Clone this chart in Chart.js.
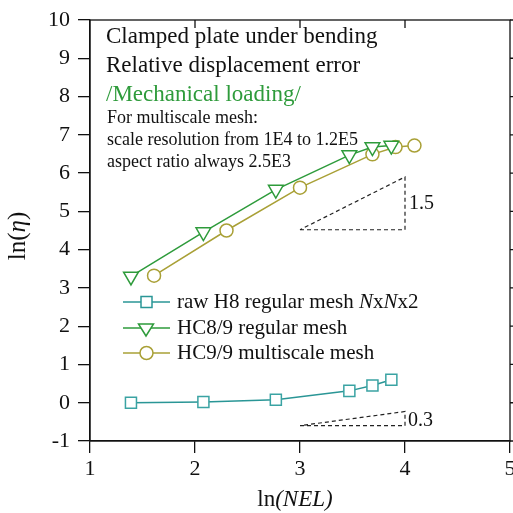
<!DOCTYPE html>
<html lang="en">
<head>
<meta charset="UTF-8">
<title>Clamped plate - ln(eta) vs ln(NEL)</title>
<style>
  html, body { margin: 0; padding: 0; background: #fff; }
  #wrap { width: 513px; height: 513px; }
</style>
<script src="https://cdn.jsdelivr.net/npm/chart.js"></script>
</head>
<body>
<div id="wrap"><canvas id="chart" width="513" height="513"></canvas></div>
<script>
// data
const rawX  = [1.39, 2.08, 2.77, 3.47, 3.69, 3.87];
const rawY  = [0.00, 0.02, 0.08, 0.31, 0.45, 0.60];
const hc8X  = [1.39, 2.08, 2.77, 3.47, 3.69, 3.87];
const hc8Y  = [3.30, 4.46, 5.57, 6.47, 6.68, 6.72];
const hc9X  = [1.61, 2.30, 3.00, 3.69, 3.91, 4.09];
const hc9Y  = [3.32, 4.50, 5.62, 6.49, 6.68, 6.72];
// slope triangles (closed)
const slope15X = [3.0, 4.0, 4.0, 3.0];
const slope15Y = [4.52, 4.52, 5.90, 4.52];
const slope03X = [3.0, 4.0, 4.0, 3.0];
const slope03Y = [-0.60, -0.60, -0.23, -0.60];
const seriesNames = ['raw H8 regular mesh ', 'HC8/9 regular mesh', 'HC9/9 multiscale mesh'];
const xTicks = [1, 2, 3, 4, 5];
const yTicks = [-1, 0, 1, 2, 3, 4, 5, 6, 7, 8, 9, 10];

const TEAL = '#2a9696', GREEN = '#2e9b3b', OLIVE = '#a9a036';
const SERIF = '"Liberation Serif", "Times New Roman", serif';

const pts = (xs, ys) => xs.map((x, i) => ({ x: x, y: ys[i] }));

const decor = {
  id: 'decor',
  afterDraw(chart) {
    const { ctx, chartArea: a, scales: { x, y } } = chart;
    ctx.save();
    // frame, right and top ticks
    ctx.strokeStyle = '#111';
    ctx.lineWidth = 1.3;
    ctx.strokeRect(a.left, a.top, a.right - a.left, a.bottom - a.top);
    ctx.beginPath();
    yTicks.forEach(v => { const py = y.getPixelForValue(v); ctx.moveTo(a.right, py); ctx.lineTo(a.right + 12, py); });
    xTicks.slice(1, -1).forEach(v => { const px = x.getPixelForValue(v); ctx.moveTo(px, a.top); ctx.lineTo(px, a.top + 8); });
    ctx.stroke();

    // annotation texts
    ctx.fillStyle = '#111';
    ctx.textBaseline = 'middle';
    ctx.textAlign = 'left';
    ctx.font = '23px ' + SERIF;
    ctx.fillText('Clamped plate under bending', 106, 37);
    ctx.fillText('Relative displacement error', 106, 66);
    ctx.fillStyle = GREEN;
    ctx.fillText('/Mechanical loading/', 106, 95);
    ctx.fillStyle = '#111';
    ctx.font = '18px ' + SERIF;
    ctx.fillText('For multiscale mesh:', 107, 118);
    ctx.fillText('scale resolution from 1E4 to 1.2E5', 107, 140);
    ctx.fillText('aspect ratio always 2.5E3', 107, 162);
    ctx.font = '20px ' + SERIF;
    ctx.fillText('1.5', x.getPixelForValue(4.0) + 4, y.getPixelForValue(5.2));
    ctx.fillText('0.3', x.getPixelForValue(4.0) + 3, y.getPixelForValue(-0.47));

    // legend
    const rows = [
      { c: TEAL, m: 'sq', y: 302 },
      { c: GREEN, m: 'tri', y: 328 },
      { c: OLIVE, m: 'circ', y: 353 }
    ];
    rows.forEach((r, i) => {
      ctx.strokeStyle = r.c;
      ctx.lineWidth = 1.5;
      ctx.beginPath(); ctx.moveTo(123, r.y); ctx.lineTo(170, r.y); ctx.stroke();
      ctx.fillStyle = '#fff';
      ctx.beginPath();
      if (r.m === 'sq') ctx.rect(141, r.y - 5.5, 11, 11);
      else if (r.m === 'tri') { ctx.moveTo(138.5, r.y - 4); ctx.lineTo(153.5, r.y - 4); ctx.lineTo(146, r.y + 8); ctx.closePath(); }
      else ctx.arc(146.5, r.y, 6.5, 0, Math.PI * 2);
      ctx.fill(); ctx.stroke();
      ctx.fillStyle = '#111';
      ctx.font = '21px ' + SERIF;
      ctx.fillText(seriesNames[i], 177, r.y);
      if (i === 0) {
        let px = 177 + ctx.measureText(seriesNames[0]).width;
        const parts = [['N', true], ['x', false], ['N', true], ['x2', false]];
        parts.forEach(p => {
          ctx.font = (p[1] ? 'italic ' : '') + '21px ' + SERIF;
          ctx.fillText(p[0], px, r.y);
          px += ctx.measureText(p[0]).width;
        });
      }
    });

    // axis titles
    ctx.fillStyle = '#111';
    ctx.font = '23px ' + SERIF;
    let w1 = ctx.measureText('ln').width;
    ctx.font = 'italic 23px ' + SERIF;
    let w2 = ctx.measureText('(NEL)').width;
    let sx = 295 - (w1 + w2) / 2;
    ctx.font = '23px ' + SERIF;
    ctx.fillText('ln', sx, 500);
    ctx.font = 'italic 23px ' + SERIF;
    ctx.fillText('(NEL)', sx + w1, 500);

    ctx.translate(18, 236);
    ctx.rotate(-Math.PI / 2);
    const F = '25px ' + SERIF;
    ctx.font = F;
    const a1 = ctx.measureText('ln(').width;
    ctx.font = 'italic ' + F;
    const a2 = ctx.measureText('η').width;
    ctx.font = F;
    const a3 = ctx.measureText(')').width;
    let tx = -(a1 + a2 + a3) / 2;
    ctx.fillText('ln(', tx, 0);
    ctx.font = 'italic ' + F;
    ctx.fillText('η', tx + a1, 0);
    ctx.font = F;
    ctx.fillText(')', tx + a1 + a2, 0);
    ctx.restore();
  }
};

new Chart(document.getElementById('chart'), {
  type: 'scatter',
  data: {
    datasets: [
      { data: pts(rawX, rawY), showLine: true, borderColor: TEAL, borderWidth: 1.5,
        pointStyle: 'rect', pointRadius: 7.8, pointBorderColor: '#3aa3a3', pointBackgroundColor: '#fff', pointBorderWidth: 1.5 },
      { data: pts(hc8X, hc8Y), showLine: true, borderColor: GREEN, borderWidth: 1.5,
        pointStyle: 'triangle', rotation: 180, pointRadius: 8.5, pointBorderColor: GREEN, pointBackgroundColor: '#fff', pointBorderWidth: 1.5 },
      { data: pts(hc9X, hc9Y), showLine: true, borderColor: OLIVE, borderWidth: 1.5,
        pointStyle: 'circle', pointRadius: 6.5, pointBorderColor: OLIVE, pointBackgroundColor: '#fff', pointBorderWidth: 1.5 },
      { data: pts(slope15X, slope15Y), showLine: true, borderColor: '#222', borderWidth: 1.2, borderDash: [4, 3], pointRadius: 0 },
      { data: pts(slope03X, slope03Y), showLine: true, borderColor: '#222', borderWidth: 1.2, borderDash: [4, 3], pointRadius: 0 }
    ]
  },
  options: {
    responsive: false,
    animation: false,
    layout: { autoPadding: false, padding: { top: 20, right: 3, left: 0, bottom: 0 } },
    plugins: { legend: { display: false }, tooltip: { enabled: false } },
    scales: {
      x: {
        type: 'linear', min: 1, max: 5,
        afterBuildTicks: s => { s.ticks = xTicks.map(v => ({ value: v })); },
        afterFit: s => { s.height = 72; s.paddingLeft = 0; s.paddingRight = 0; },
        ticks: { color: '#111', font: { family: SERIF, size: 22 }, padding: 3, maxRotation: 0 },
        grid: { drawOnChartArea: false, tickLength: 12, color: '#111', lineWidth: 1.3 },
        border: { color: '#111', width: 1.3 }
      },
      y: {
        type: 'linear', min: -1, max: 10,
        afterBuildTicks: s => { s.ticks = yTicks.map(v => ({ value: v })); },
        afterFit: s => { s.width = 90; s.paddingTop = 0; s.paddingBottom = 0; },
        ticks: { color: '#111', font: { family: SERIF, size: 22 }, padding: 8 },
        grid: { drawOnChartArea: false, tickLength: 12, color: '#111', lineWidth: 1.3 },
        border: { color: '#111', width: 1.3 }
      }
    }
  },
  plugins: [decor]
});
</script>
</body>
</html>
